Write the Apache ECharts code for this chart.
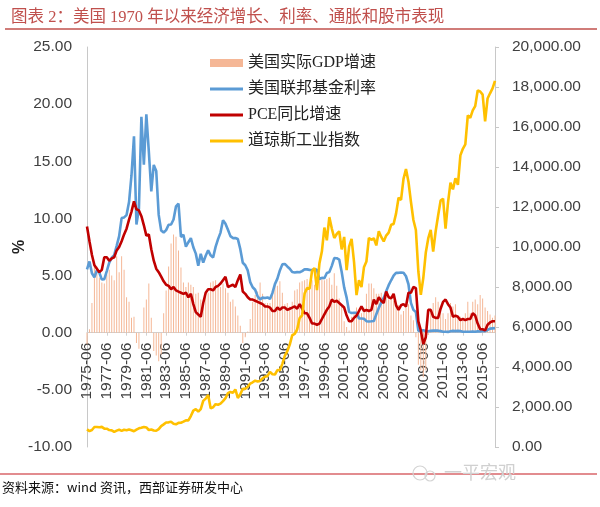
<!DOCTYPE html>
<html><head><meta charset="utf-8">
<script src="https://cdn.jsdelivr.net/npm/echarts@6/dist/echarts.min.js"></script>
<style>html,body{margin:0;padding:0;background:#fff}#c{width:600px;height:507px}</style>
</head><body><div id="c"></div>
<script>
const categories = [
'1975-06','1975-09','1975-12',
'1976-03','1976-06','1976-09','1976-12','1977-03','1977-06','1977-09','1977-12',
'1978-03','1978-06','1978-09','1978-12','1979-03','1979-06','1979-09','1979-12',
'1980-03','1980-06','1980-09','1980-12','1981-03','1981-06','1981-09','1981-12',
'1982-03','1982-06','1982-09','1982-12','1983-03','1983-06','1983-09','1983-12',
'1984-03','1984-06','1984-09','1984-12','1985-03','1985-06','1985-09','1985-12',
'1986-03','1986-06','1986-09','1986-12','1987-03','1987-06','1987-09','1987-12',
'1988-03','1988-06','1988-09','1988-12','1989-03','1989-06','1989-09','1989-12',
'1990-03','1990-06','1990-09','1990-12','1991-03','1991-06','1991-09','1991-12',
'1992-03','1992-06','1992-09','1992-12','1993-03','1993-06','1993-09','1993-12',
'1994-03','1994-06','1994-09','1994-12','1995-03','1995-06','1995-09','1995-12',
'1996-03','1996-06','1996-09','1996-12','1997-03','1997-06','1997-09','1997-12',
'1998-03','1998-06','1998-09','1998-12','1999-03','1999-06','1999-09','1999-12',
'2000-03','2000-06','2000-09','2000-12','2001-03','2001-06','2001-09','2001-12',
'2002-03','2002-06','2002-09','2002-12','2003-03','2003-06','2003-09','2003-12',
'2004-03','2004-06','2004-09','2004-12','2005-03','2005-06','2005-09','2005-12',
'2006-03','2006-06','2006-09','2006-12','2007-03','2007-06','2007-09','2007-12',
'2008-03','2008-06','2008-09','2008-12','2009-03','2009-06','2009-09','2009-12',
'2010-03','2010-06','2010-09','2010-12','2011-03','2011-06','2011-09','2011-12',
'2012-03','2012-06','2012-09','2012-12','2013-03','2013-06','2013-09','2013-12',
'2014-03','2014-06','2014-09','2014-12','2015-03','2015-06','2015-09','2015-12',
'2016-03','2016-06','2016-09'
];

// 美国实际GDP增速 (%, yoy)
const gdpGrowth = [
-1.0,0.3,2.6,
6.2,5.8,4.8,4.4, 4.3,5.1,5.5,5.0, 4.6,6.7,5.3,6.7, 5.5,3.1,2.7,1.3,
1.4,-0.9,-1.4,0.0, 2.2,2.9,4.3,1.3, -1.6,-2.0,-2.5,-1.9, 1.7,3.7,5.8,7.8,
8.6,8.4,7.2,5.7, 4.4,4.0,4.4,4.2, 4.0,3.4,3.5,2.9, 2.6,3.2,3.5,4.4,
4.5,4.6,4.0,4.0, 4.3,3.9,3.5,2.7, 2.9,2.3,1.5,0.6, -0.9,-0.4,0.1,1.2,
2.7,3.3,3.6,4.4, 3.4,2.6,2.6,2.6, 3.6,4.3,4.1,4.5, 3.5,2.5,2.6,2.3,
2.7,3.7,3.8,4.4, 4.5,4.6,4.7,4.4, 4.6,4.2,4.5,5.0, 4.7,4.6,4.7,4.8,
4.2,5.2,4.1,3.0, 2.3,1.0,0.5,0.2, 1.4,1.8,2.2,2.0, 1.7,2.2,3.4,4.3,
4.3,3.9,3.4,3.4, 3.5,3.1,3.5,2.9, 3.1,2.8,2.4,2.4, 1.6,1.9,2.3,2.5,
1.5,1.1,-0.4,-2.8, -3.3,-3.9,-3.3,-0.2, 1.7,2.6,3.1,2.7, 1.9,1.7,1.2,1.7,
2.6,2.3,2.5,1.3, 1.4,1.1,1.7,2.7, 1.7,2.7,2.9,2.5, 3.3,3.0,2.2,1.9,
1.6,1.3,1.5
];

// 美国联邦基金利率 (%)
const fedFunds = [
5.55,6.24,5.20,
4.84,5.48,5.25,4.65, 4.69,5.39,6.14,6.56, 6.79,7.60,8.45,10.03, 10.09,10.29,11.43,13.78,
17.19,9.47,10.87,18.90, 14.70,19.10,15.87,12.37, 14.68,14.15,10.31,8.95, 8.77,8.98,9.45,9.47,
9.91,11.06,11.30,8.38, 8.58,7.53,7.92,8.27, 7.48,6.92,5.85,6.91, 6.13,6.73,7.22,6.77,
6.58,7.51,8.19,8.76, 9.85,9.53,9.01,8.45, 8.28,8.29,8.20,7.31, 6.12,5.90,5.45,4.43,
3.98,3.76,3.18,2.92, 3.07,3.04,3.09,2.96, 3.48,4.25,4.73,5.45, 5.98,6.02,5.80,5.60,
5.31,5.27,5.30,5.29, 5.39,5.56,5.54,5.50, 5.49,5.56,5.51,4.68, 4.81,4.76,5.22,5.30,
5.85,6.53,6.52,6.40, 5.31,3.97,3.07,1.82, 1.73,1.75,1.75,1.24, 1.25,1.22,1.01,0.98,
1.00,1.03,1.61,2.16, 2.63,3.04,3.62,4.16, 4.59,4.99,5.25,5.24, 5.26,5.25,4.94,4.24,
2.61,2.00,1.81,0.16, 0.18,0.21,0.15,0.12, 0.16,0.18,0.19,0.18, 0.14,0.09,0.08,0.07,
0.13,0.16,0.14,0.16, 0.14,0.09,0.08,0.09, 0.08,0.10,0.09,0.12, 0.11,0.13,0.14,0.24,
0.36,0.38,0.40
];

// PCE同比增速 (%)
const pceYoY = [
9.3,8.0,6.8,
5.9,5.6,5.3,5.5, 6.6,6.6,6.3,6.5, 6.6,7.2,7.5,8.0, 8.6,9.1,9.9,10.6,
11.5,10.8,10.7,10.2, 9.4,8.5,8.6,7.3, 6.3,5.6,5.3,4.9, 4.5,4.2,4.1,3.8,
4.0,3.7,3.6,3.5, 3.4,3.5,3.1,3.4, 2.5,1.8,1.6,1.4, 2.6,3.5,3.8,3.8,
3.7,4.0,4.1,4.3, 4.6,4.9,4.0,4.1, 4.2,4.0,4.6,5.1, 3.6,3.4,3.1,2.9,
2.9,2.8,2.7,2.6, 2.5,2.3,2.3,2.2, 1.9,1.9,2.2,2.0, 2.2,2.2,2.0,2.1,
2.2,2.3,2.1,2.5, 2.1,1.7,1.7,1.3, 0.8,0.8,0.7,0.8, 1.2,1.6,2.0,2.3,
2.9,2.7,2.8,2.6, 2.4,2.2,1.5,1.0, 1.0,1.3,1.5,1.9, 2.3,1.9,2.0,1.9,
2.0,2.9,2.5,3.1, 2.8,2.6,3.6,3.1, 3.0,3.4,2.4,2.0, 2.4,2.5,2.3,3.5,
3.5,4.0,3.9,1.0, 0.2,-1.0,-0.4,2.0, 2.0,1.4,1.3,1.3, 2.1,2.7,2.9,2.5,
2.2,1.4,1.5,1.4, 1.1,1.2,1.1,1.2, 1.2,1.7,1.5,0.8, 0.3,0.3,0.2,0.7,
0.9,1.0,1.0
];

// 道琼斯工业指数 (points)
const dowJones = [
879,794,852,
1000,1003,990,1005, 919,916,847,831, 757,819,866,805, 862,842,878,839,
786,868,932,964, 1004,977,850,875, 823,812,896,1047, 1130,1222,1233,1259,
1165,1132,1207,1212, 1267,1336,1329,1547, 1819,1893,1768,1896, 2305,2419,2596,1939,
1989,2142,2113,2169, 2293,2440,2693,2753, 2707,2881,2453,2634, 2914,2907,3017,3169,
3236,3319,3272,3301, 3436,3516,3555,3754, 3636,3625,3843,3834, 4158,4556,4789,5117,
5587,5655,5882,6448, 6584,7673,7945,7908, 8800,8952,7843,9181, 9786,10971,10337,11497,
10922,10448,10651,10787, 9879,10502,8848,10022, 10404,9243,7592,8342, 7992,8985,9275,10454,
10358,10435,10080,10783, 10504,10275,10569,10718, 11109,11150,11679,12463, 12354,13409,13896,13265,
12263,11350,10851,8776, 7609,8447,9712,10428, 10857,9774,10788,11578, 12320,12414,10913,12218,
13212,12880,13437,13104, 14579,14910,15130,16577, 16458,16827,17043,17823, 17776,17620,16285,17425,
17685,17930,18308
];

const seriesNames = ['美国实际GDP增速','美国联邦基金利率','PCE同比增速','道琼斯工业指数'];
const titleText = '图表 2：美国 1970 年以来经济增长、利率、通胀和股市表现';
const sourceText = '资料来源：wind 资讯，西部证券研发中心';

const sans = "'Liberation Sans','Noto Sans CJK SC',sans-serif";
const serif = "'Liberation Serif','Noto Sans CJK SC',serif";
const lineIcon = 'path://M0,0H33V3H0Z';
const chart = echarts.init(document.getElementById('c'), null, {renderer:'canvas'});
chart.setOption({
  animation: false,
  backgroundColor: '#fff',
  title: {
    text: titleText, left: 6, top: 4,
    textStyle: {fontSize: 16.5, color: '#C0504D', fontWeight: 'normal', fontFamily: serif}
  },
  legend: {
    orient: 'vertical', left: 205, top: 50, itemWidth: 33, itemHeight: 8, itemGap: 10,
    data: [
      {name: seriesNames[0], icon: 'rect'},
      {name: seriesNames[1], icon: lineIcon},
      {name: seriesNames[2], icon: lineIcon},
      {name: seriesNames[3], icon: lineIcon}
    ],
    textStyle: {fontSize: 16, lineHeight: 16, color: '#222', fontFamily: serif}
  },
  grid: {left: 87, right: 105, top: 47, bottom: 60, containLabel: false, outerBoundsMode: 'none'},
  xAxis: {
    type: 'category', data: categories, boundaryGap: false, offset: -114.3,
    axisLine: {onZero: false, lineStyle: {color: '#d0d0d0'}},
    axisTick: {show: true, interval: 7, length: 3, lineStyle: {color: '#d0d0d0'}},
    axisLabel: {interval: 7, rotate: 90, fontSize: 15.5, color: '#404040', margin: 10, fontFamily: sans},
    splitLine: {show: false}
  },
  yAxis: [
    {
      type: 'value', min: -10, max: 25, interval: 5, position: 'left',
      name: '%', nameLocation: 'middle', nameGap: 59, nameMoveOverlap: false,
      nameTextStyle: {fontSize: 16, fontWeight: 'bold', color: '#222', fontFamily: sans},
      axisLine: {show: true, lineStyle: {color: '#c8c8c8'}},
      axisTick: {show: false},
      splitLine: {show: false},
      axisLabel: {formatter: v => v.toFixed(2), fontSize: 15.5, color: '#404040', margin: 15, fontFamily: sans}
    },
    {
      type: 'value', min: 0, max: 20000, interval: 2000, position: 'right',
      axisLine: {show: true, lineStyle: {color: '#c8c8c8'}},
      axisTick: {show: true, length: 4, lineStyle: {color: '#c8c8c8'}},
      splitLine: {show: false},
      axisLabel: {
        formatter: v => v.toLocaleString('en-US', {minimumFractionDigits: 2, maximumFractionDigits: 2}),
        fontSize: 15.5, color: '#404040', margin: 17, fontFamily: sans
      }
    }
  ],
  series: [
    {name: seriesNames[0], type: 'bar', data: gdpGrowth, yAxisIndex: 0, barWidth: 1,
     itemStyle: {color: '#F5B796'}, z: 1},
    {name: seriesNames[1], type: 'line', data: fedFunds, yAxisIndex: 0, symbol: 'none',
     lineStyle: {width: 2.6, color: '#5B9BD5'}, itemStyle: {color: '#5B9BD5'}, z: 2},
    {name: seriesNames[2], type: 'line', data: pceYoY, yAxisIndex: 0, symbol: 'none',
     lineStyle: {width: 2.6, color: '#C00000'}, itemStyle: {color: '#C00000'}, z: 3},
    {name: seriesNames[3], type: 'line', data: dowJones, yAxisIndex: 1, symbol: 'none',
     lineStyle: {width: 2.6, color: '#FFC000'}, itemStyle: {color: '#FFC000'}, z: 4}
  ],
  graphic: [
    {type: 'line', shape: {x1: 5, y1: 29, x2: 597, y2: 29}, style: {stroke: '#C0504D', lineWidth: 1.5}},
    {type: 'line', shape: {x1: 0, y1: 474, x2: 597, y2: 474}, style: {stroke: '#D9666A', lineWidth: 1.5}},
    {type: 'text', left: 2, top: 481, style: {text: sourceText, fontSize: 13, fill: '#111', fontFamily: "'Noto Sans CJK SC',sans-serif"}},
    {type: 'circle', shape: {cx: 420, cy: 473, r: 7}, style: {fill: 'none', stroke: '#d4d4d4', lineWidth: 1.2}, z: 10},
    {type: 'circle', shape: {cx: 430, cy: 476, r: 5}, style: {fill: 'none', stroke: '#d4d4d4', lineWidth: 1.2}, z: 10},
    {type: 'text', left: 444, top: 463, style: {text: '一平宏观', fontSize: 18, fill: '#d0d0d0', fontFamily: "'Noto Sans CJK SC',sans-serif"}, z: 10}
  ]
});
</script></body></html>
